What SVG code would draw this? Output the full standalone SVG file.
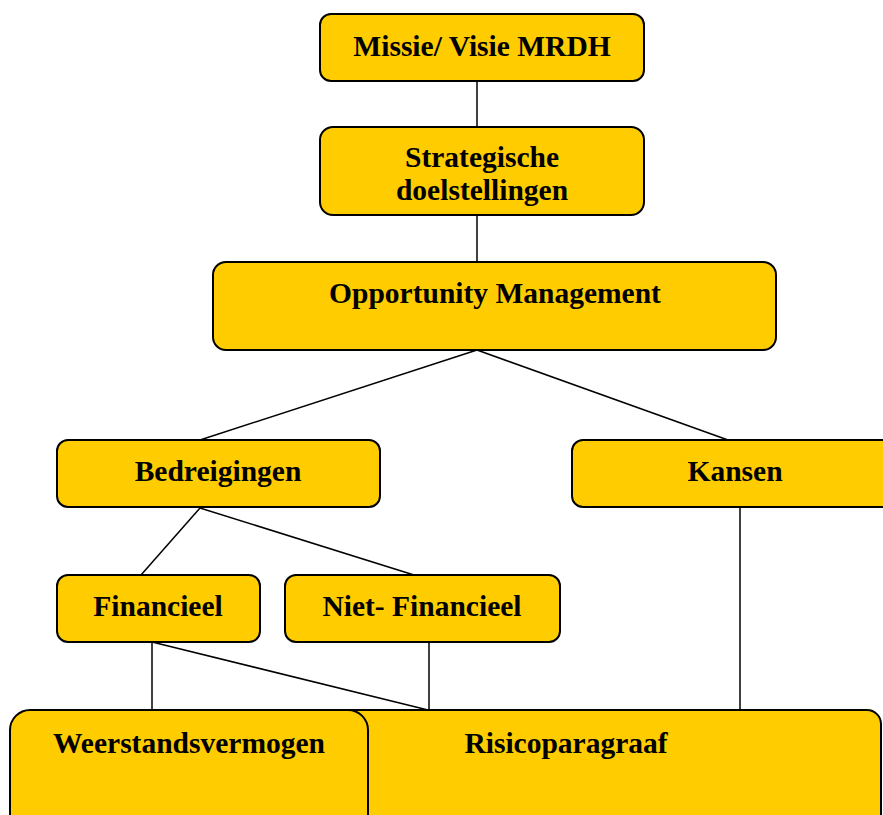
<svg xmlns="http://www.w3.org/2000/svg" width="883" height="815" viewBox="0 0 883 815">
<style>
.box{fill:#FFCC00;stroke:#000;stroke-width:2}
.lbl{font-family:"Liberation Serif","Times New Roman",serif;font-weight:bold;font-size:29.5px;fill:#000;text-anchor:middle}
.con{stroke:#000;stroke-width:1.5;fill:none}
</style>
<rect width="883" height="815" fill="#fff"/>
<g id="connectors">
<line class="con" x1="477" y1="81" x2="477" y2="127"/>
<line class="con" x1="477" y1="215" x2="477" y2="262"/>
<line class="con" x1="477" y1="350" x2="200" y2="440"/>
<line class="con" x1="477" y1="350" x2="728" y2="440"/>
<line class="con" x1="200" y1="508" x2="141" y2="575"/>
<line class="con" x1="200" y1="508" x2="414" y2="575"/>
<line class="con" x1="740" y1="507" x2="740" y2="710"/>
<line class="con" x1="152" y1="642" x2="152" y2="710"/>
<line class="con" x1="152" y1="642" x2="428" y2="710"/>
<line class="con" x1="429" y1="642" x2="429" y2="710"/>
</g>
<g id="missie">
<rect class="box" x="320" y="14" width="324" height="67" rx="11"/>
<text class="lbl" x="482" y="56">Missie/ Visie MRDH</text>
</g>
<g id="strategische">
<rect class="box" x="320" y="127" width="324" height="88" rx="13"/>
<text class="lbl" x="482" y="167">Strategische</text>
<text class="lbl" x="482" y="200">doelstellingen</text>
</g>
<g id="opportunity">
<rect class="box" x="213" y="262" width="563" height="88" rx="13"/>
<text class="lbl" x="495" y="303">Opportunity Management</text>
</g>
<g id="bedreigingen">
<rect class="box" x="57" y="440" width="323" height="67" rx="11"/>
<text class="lbl" x="218" y="481">Bedreigingen</text>
</g>
<g id="kansen">
<rect class="box" x="572" y="440" width="330" height="67" rx="11"/>
<text class="lbl" x="735" y="481">Kansen</text>
</g>
<g id="financieel">
<rect class="box" x="57" y="575" width="203" height="67" rx="11"/>
<text class="lbl" x="158" y="616">Financieel</text>
</g>
<g id="nietfinancieel">
<rect class="box" x="285" y="575" width="275" height="67" rx="11"/>
<text class="lbl" x="422" y="616">Niet- Financieel</text>
</g>
<g id="risicoparagraaf">
<rect class="box" x="200" y="710" width="681" height="130" rx="14"/>
<text class="lbl" x="566" y="753">Risicoparagraaf</text>
</g>
<g id="weerstandsvermogen">
<rect class="box" x="10" y="710" width="358" height="130" rx="20"/>
<text class="lbl" x="189" y="753">Weerstandsvermogen</text>
</g>
</svg>
